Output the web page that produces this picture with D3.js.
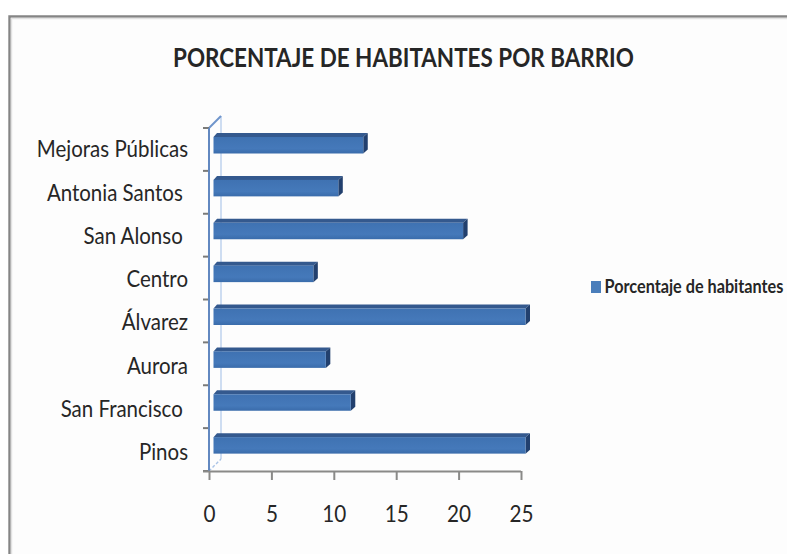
<!DOCTYPE html>
<html>
<head>
<meta charset="utf-8">
<script src="https://cdn.jsdelivr.net/npm/d3@7"></script>
<style>
html,body{margin:0;padding:0;background:#fff;overflow:hidden}
svg{display:block}
text{font-family:Lato,"Open Sans",sans-serif;fill:#262626;white-space:pre}
</style>
</head>
<body>
<svg id="chart" width="787" height="554"></svg>
<script>
// Barrios listed top to bottom; trailing spaces belong to the labels themselves.
const barrios = ["Mejoras Públicas", "Antonia Santos ", "San Alonso ", "Centro", "Álvarez", "Aurora", "San Francisco ", "Pinos"];
const porcentajes = [12, 10, 20, 8, 25, 9, 11, 25];
const xTicks = [0, 5, 10, 15, 20, 25];
const titulo = "PORCENTAJE DE HABITANTES POR BARRIO";
const serie = "Porcentaje de habitantes";

const svg = d3.select("#chart");
const defs = svg.append("defs");

const frontGrad = defs.append("linearGradient").attr("id", "frontGrad")
  .attr("x1", 0).attr("x2", 0).attr("y1", 0).attr("y2", 1);
frontGrad.append("stop").attr("offset", "0%").attr("stop-color", "#3f72b2");
frontGrad.append("stop").attr("offset", "70%").attr("stop-color", "#4579ba");
frontGrad.append("stop").attr("offset", "100%").attr("stop-color", "#3a6cab");

// Sheet edge: grey rule along the top and left only
svg.append("rect").attr("x", 8).attr("y", 15).attr("width", 779).attr("height", 539).attr("fill", "#fdfdfd");
svg.append("path").attr("d", "M9.5,554V16.5H787").attr("fill", "none").attr("stroke", "#858585").attr("stroke-width", 2.4);
svg.append("path").attr("d", "M11.5,554V18.5H787").attr("fill", "none").attr("stroke", "#e2e2e2").attr("stroke-width", 1.4);

const x = d3.scaleLinear().domain([0, 25]).range([209, 521]);
const y = d3.scaleBand().domain(barrios).range([128, 471]).paddingInner(0).paddingOuter(0);
// Labels drift slightly from the band centres, so they get their own band scale
const yLabel = d3.scaleBand().domain(barrios).range([127.5, 473.5]);

const depth = { wallX: 12, wallY: 12, barX: 4.5, barY: 4 };

// Squeeze a text horizontally so it spans the wanted width from its left edge
function fitWidth(sel, left, baseline, width) {
  const s = width / sel.node().getComputedTextLength();
  sel.attr("transform", `translate(${left},${baseline}) scale(${s},1)`);
}

// Back wall edges of the 3D plot area
const wall = svg.append("g").attr("fill", "none");
wall.append("line")
  .attr("x1", x(0) + depth.wallX).attr("x2", x(0) + depth.wallX)
  .attr("y1", y.range()[0] - depth.wallY).attr("y2", y.range()[1] - depth.wallY)
  .attr("stroke", "#b9cfec").attr("stroke-width", 1.4);
wall.append("line")
  .attr("x1", x(0)).attr("x2", x(0) + depth.wallX)
  .attr("y1", y.range()[0]).attr("y2", y.range()[0] - depth.wallY)
  .attr("stroke", "#6f95cb").attr("stroke-width", 2);
wall.append("line")
  .attr("x1", x(0)).attr("x2", x(0) + depth.wallX)
  .attr("y1", y.range()[1]).attr("y2", y.range()[1] - depth.wallY)
  .attr("stroke", "#a9c3e6").attr("stroke-width", 1.4).attr("stroke-dasharray", "3 2");

// Category axis: narrowed labels, right edge 21px left of the axis line
const labelSqueeze = 0.91;
const yAxis = svg.append("g").attr("transform", `translate(${x(0)},0)`)
  .call(d3.axisLeft(yLabel).tickSize(0).tickPadding(0));
yAxis.select(".domain").remove();
yAxis.selectAll("text")
  .attr("x", -21 / labelSqueeze)
  .attr("dy", null)
  .attr("y", 8.3)
  .attr("font-size", 22.5)
  .style("font-family", "Lato")
  .attr("transform", `scale(${labelSqueeze},1)`);

// Category tick marks sit on band edges
svg.append("g").selectAll("line")
  .data(barrios.concat([null]))
  .join("line")
  .attr("x1", x(0) - 6).attr("x2", x(0))
  .attr("y1", (d, i) => y.range()[0] + i * y.step())
  .attr("y2", (d, i) => y.range()[0] + i * y.step())
  .attr("stroke", "#7a7a78").attr("stroke-width", 2);

svg.append("line")
  .attr("x1", x(0)).attr("x2", x(0))
  .attr("y1", y.range()[0]).attr("y2", y.range()[1])
  .attr("stroke", "#6288c0").attr("stroke-width", 2);

// Value axis
const xAxis = svg.append("g").attr("transform", `translate(0,${y.range()[1]})`)
  .call(d3.axisBottom(x).tickValues(xTicks).tickFormat(d3.format("d")).tickSize(9).tickSizeOuter(0));
xAxis.select(".domain").attr("stroke", "#8a8a88").attr("stroke-width", 2)
  .attr("d", `M${x(0) - 6},0.5H${x(25)}`);
xAxis.selectAll(".tick line").attr("stroke", "#8a8a88").attr("stroke-width", 2);
xAxis.selectAll("text")
  .attr("font-size", 23)
  .attr("y", 51)
  .attr("dy", null)
  .attr("transform", "scale(0.9,1)");

// Bars: front face, top face, end face
const rowHeight = 16.5;
const bars = svg.append("g").selectAll("g")
  .data(barrios.map((b, i) => ({ b, v: porcentajes[i] })))
  .join("g")
  .attr("transform", d => `translate(0,${y(d.b) + 9})`);

bars.append("path")
  .attr("d", d => {
    const x0 = x(0) + depth.barX, x1 = x(d.v) + depth.barX;
    return `M${x0},0L${x0 + depth.barX - 1},${-depth.barY}H${x1 + depth.barX}L${x1},0Z`;
  })
  .attr("fill", "#34598e");

bars.append("path")
  .attr("d", d => {
    const x1 = x(d.v) + depth.barX;
    return `M${x1},0L${x1 + depth.barX},${-depth.barY}V${rowHeight - depth.barY}L${x1},${rowHeight}Z`;
  })
  .attr("fill", "#22406e");

bars.append("rect")
  .attr("x", x(0) + depth.barX)
  .attr("y", 0)
  .attr("width", d => x(d.v) - x(0))
  .attr("height", rowHeight)
  .attr("fill", "url(#frontGrad)");

// Title
svg.append("text")
  .attr("font-size", 26.5).attr("font-weight", 700)
  .text(titulo)
  .call(fitWidth, 173, 67, 461);

// Legend
const legend = svg.append("g");
legend.append("rect").attr("x", 591).attr("y", 281).attr("width", 10).attr("height", 12).attr("fill", "#4a7ebb");
legend.append("text")
  .attr("font-size", 18).attr("font-weight", 700)
  .text(serie)
  .call(fitWidth, 604.5, 292.5, 179);
</script>
</body>
</html>
